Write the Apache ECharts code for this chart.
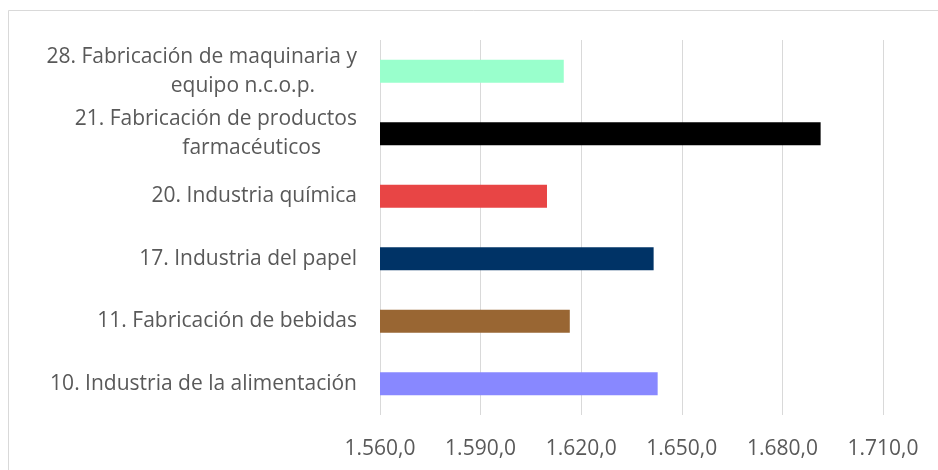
<!DOCTYPE html>
<html>
<head>
<meta charset="utf-8">
<script src="https://cdn.jsdelivr.net/npm/echarts@6/dist/echarts.min.js"></script>
<style>
html,body{margin:0;padding:0;background:#fff;}
#chart{width:938px;height:470px;}
</style>
</head>
<body>
<div id="chart"></div>
<script>
const categories = [
  '10. Industria de la alimentación',
  '11. Fabricación de bebidas',
  '17. Industria del papel',
  '20. Industria química',
  '21. Fabricación de productos\nfarmacéuticos',
  '28. Fabricación de maquinaria y\nequipo n.c.o.p.'
];
const values = [1642.8, 1616.6, 1641.6, 1609.8, 1691.4, 1614.8];
const barColors = ['#8888FF', '#996633', '#003366', '#E84545', '#000000', '#99FFCC'];
const xMin = 1560, xMax = 1710, xStep = 30;

function fmt(v) {
  const fixed = v.toFixed(1);
  const parts = fixed.split('.');
  const intPart = parts[0].replace(/\B(?=(\d{3})+(?!\d))/g, '.');
  return intPart + ',' + parts[1];
}

const FONT = 'Open Sans';
const YSIZE = 21;
const XSIZE = 21;
const LINE_H = 29;
const TEXT_COLOR = '#595959';

// centre wrapped lines inside the right-aligned label block via right padding
// (the renderer shifts the text by twice the padding, hence the /4)
const mctx = document.createElement('canvas').getContext('2d');
mctx.font = YSIZE + 'px "' + FONT + '"';
const rich = {};
categories.forEach((c, i) => {
  const lines = c.split('\n');
  const widths = lines.map(s => mctx.measureText(s).width);
  const w = Math.max(...widths);
  lines.forEach((s, j) => {
    rich['l' + i + '_' + j] = {
      color: TEXT_COLOR, fontFamily: FONT, fontSize: YSIZE, lineHeight: LINE_H,
      padding: [0, Math.round((w - widths[j]) / 4), 0, 0]
    };
  });
});

const chart = echarts.init(document.getElementById('chart'), null, {renderer: 'canvas'});
chart.setOption({
  backgroundColor: '#ffffff',
  animation: false,
  graphic: [{
    type: 'rect',
    shape: {x: 8.5, y: 10.5, width: 1000, height: 1000},
    style: {fill: 'none', stroke: '#d9d9d9', lineWidth: 1},
    silent: true
  }],
  grid: {left: 380, right: 55, top: 40, bottom: 55, containLabel: false},
  xAxis: {
    type: 'value',
    min: xMin, max: xMax, interval: xStep,
    axisLine: {show: false},
    axisTick: {show: false},
    splitLine: {show: true, lineStyle: {color: '#d9d9d9', width: 1}},
    axisLabel: {
      color: TEXT_COLOR, fontFamily: FONT, fontSize: XSIZE, margin: 24,
      formatter: v => fmt(v)
    }
  },
  yAxis: {
    type: 'category',
    data: categories,
    axisLine: {show: false},
    axisTick: {show: false},
    axisLabel: {
      color: TEXT_COLOR, fontFamily: FONT, fontSize: YSIZE, margin: 23, lineHeight: LINE_H,
      formatter: (v, idx) => v.split('\n').map((s, j) => '{l' + idx + '_' + j + '|' + s + '}').join('\n'),
      rich: rich
    }
  },
  series: [{
    type: 'bar',
    data: values.map((v, i) => ({value: v, itemStyle: {color: barColors[i]}})),
    barWidth: 23
  }]
});
</script>
</body>
</html>
